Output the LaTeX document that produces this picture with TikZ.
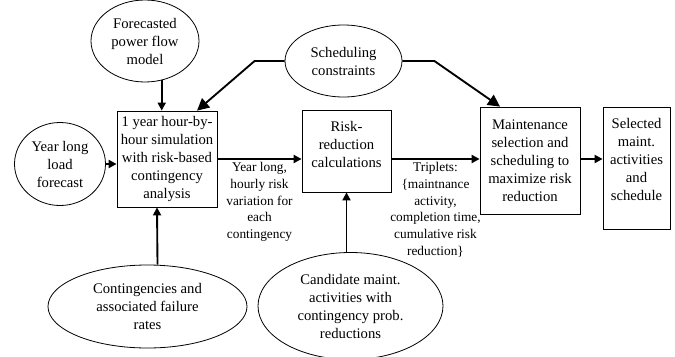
\documentclass[tikz,border=0pt]{standalone}
\usepackage{fontspec}
\setmainfont{Liberation Serif}
\usetikzlibrary{shapes.geometric,arrows.meta,calc}

\begin{document}
\begin{tikzpicture}[x=0.75pt,y=-0.75pt,font=\fontsize{11}{13.5}\selectfont,
	box/.style={draw,line width=0.6pt,align=center,inner xsep=0.5pt,inner ysep=2pt},
	oval/.style={ellipse,draw,line width=0.6pt,align=center,inner sep=0pt},
	arr/.style={-{Triangle[length=6pt,width=6pt]},line width=1.4pt},
	bigarr/.style={arr,-{Triangle[length=9pt,width=9pt]}},
	lbl/.style={align=center,inner sep=2pt,font=\fontsize{10}{12.5}\selectfont}]
	\useasboundingbox (0,0) rectangle (675,357);

	% inputs
	\node[oval,minimum width=81pt,minimum height=61.5pt] (fpf) at (145,41) {Forecasted\\power flow\\model};
	\node[oval,minimum width=87.75pt,minimum height=54pt] (sc) at (343.5,61) {Scheduling\\constraints};
	\node[oval,minimum width=68.25pt,minimum height=62.25pt] (ylf) at (60,164) {Year long\\load\\forecast};
	\node[oval,minimum width=149.25pt,minimum height=62.25pt] (ce) at (147.5,306.5) {Contingencies and\\associated failure\\rates};
	\node[oval,minimum width=138.75pt,minimum height=80.25pt] (cand) at (350.5,306) {Candidate maint.\\activities with\\contingency prob.\\reductions};

	% process boxes
	\node[box,minimum width=75pt,minimum height=72pt] (sim) at (167,159) {1 year hour-by-\\hour simulation\\with risk-based\\contingency\\analysis};
	\node[box,minimum width=66.75pt,minimum height=61.5pt] (rrc) at (346.5,151) {Risk-\\reduction\\calculations\\[-4pt]\mbox{}};
	\node[box,minimum width=75pt,minimum height=80.25pt] (mss) at (530,160.5) {Maintenance\\selection and\\scheduling to\\maximize risk\\reduction};
	\node[box,minimum width=50.25pt,minimum height=91.5pt] (sel) at (636.5,168) {Selected\\maint.\\activities\\and\\schedule\\\mbox{}};

	% connectors
	\draw[arr] (fpf.293) -- (fpf.293 |- sim.north);
	\draw[arr] (ylf.east) -- (ylf.east -| sim.west);
	\draw[bigarr] (sc.west) -- ++(-30,0) -- ($(sim.north)+(30,0)$);
	\draw[bigarr] (sc.east) -- ++(32,0) -- ($(mss.north)+(-30,0)$);
	\draw[arr] (sim.east) -- node[lbl,below] {Year long,\\hourly risk\\variation for\\each\\contingency} (sim.east -| rrc.west);
	\draw[arr] (sim.east -| rrc.east) -- node[lbl,below] {Triplets:\\\{maintnance\\activity,\\completion time,\\cumulative risk\\reduction\}} (sim.east -| mss.west);
	\draw[arr] (sim.east -| mss.east) -- (sim.east -| sel.west);
	\draw[arr] ($(ce.north)+(10,0)$) -- ($(sim.south)+(-10,0)$);
	\draw[arr] (rrc.south |- cand.north) -- (rrc.south);
\end{tikzpicture}
\end{document}
